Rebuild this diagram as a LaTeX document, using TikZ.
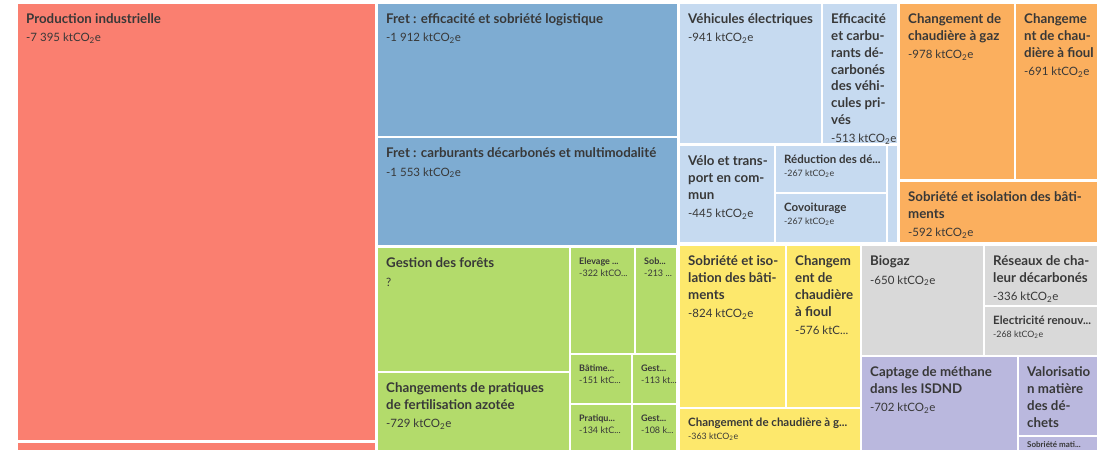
\documentclass[tikz,border=0pt]{standalone}
\usepackage{fontspec}
\setmainfont{Lato}
\definecolor{salmon}{HTML}{FA7F70}
\definecolor{fretblue}{HTML}{7EACD2}
\definecolor{lblue}{HTML}{C6DAF0}
\definecolor{orangebox}{HTML}{FBAF5E}
\definecolor{greenbox}{HTML}{B3DB6B}
\definecolor{yellowbox}{HTML}{FDE86C}
\definecolor{graybox}{HTML}{D9D9D9}
\definecolor{purplebox}{HTML}{BAB8DE}
\definecolor{txt}{HTML}{383838}
\tikzset{
  tl/.style={anchor=north west, inner sep=0, align=left, text=txt, font=\bfseries\fontsize{13.3}{16.8}\selectfont},
  vl/.style={anchor=base west, inner sep=0, text=txt, font=\fontsize{11.5}{13}\selectfont},
  tls/.style={anchor=north west, inner sep=0, align=left, text=txt, font=\bfseries\fontsize{11.5}{13}\selectfont},
  vls/.style={anchor=base west, inner sep=0, text=txt, font=\fontsize{8.8}{10}\selectfont},
  tlt/.style={anchor=north west, inner sep=0, align=left, text=txt, font=\bfseries\fontsize{9}{11}\selectfont},
  vlt/.style={anchor=base west, inner sep=0, text=txt, font=\fontsize{9}{10}\selectfont}
}
% big box: name, x1, y1, x2, y2, colour, title, number of title lines, value
\newcommand\BB[9]{%
  \fill[#6] (#2,#3) rectangle (#4,#5);
  \node[tl] (#1t) at ({#2+8},{#3+19.5-13}) {\rule{0pt}{13pt}#7};
  \node[vl] (#1v) at ({#2+8},{#3+19.5+(#8-1)*16.8+18.5}) {#9};
}
% small box: name, x1, y1, x2, y2, colour, title, value
\newcommand\SB[8]{%
  \fill[#6] (#2,#3) rectangle (#4,#5);
  \node[tls] (#1t) at ({#2+8},{#3+17-11}) {\rule{0pt}{11pt}#7};
  \node[vls] (#1v) at ({#2+8},{#3+17+13.5}) {#8};
}
% tiny box
\newcommand\TB[8]{%
  \fill[#6] (#2,#3) rectangle (#4,#5);
  \node[tlt] (#1t) at ({#2+8},{#3+16-9}) {\rule{0pt}{9pt}#7};
  \node[vlt] (#1v) at ({#2+8},{#3+16+12}) {#8};
}
\newcommand\kt{ktCO\textsubscript{2}e}
\begin{document}
\begin{tikzpicture}[x=1pt,y=-1pt]
\useasboundingbox (0,0) rectangle (1101,452);
\fill[white] (0,0) rectangle (1101,452);
% salmon
\BB{P1}{18}{4}{375}{440}{salmon}{Production industrielle}{1}{-7 395 \kt}
\fill[salmon] (18,443) rectangle (375,450);
% freight
\BB{F1}{378}{4}{677}{136}{fretblue}{Fret : efficacité et sobriété logistique}{1}{-1 912 \kt}
\BB{F2}{378}{138}{677}{245}{fretblue}{Fret : carburants décarbonés et multimodalité}{1}{-1 553 \kt}
% green
\BB{G1}{378}{248}{569}{371}{greenbox}{Gestion des forêts}{1}{?}
\BB{G2}{378}{373}{569}{450}{greenbox}{Changements de pratiques\\de fertilisation azotée}{2}{-729 \kt}
\TB{G3}{571}{248}{634}{353}{greenbox}{Elevage ...}{-322 ktCO...}
\TB{G4}{636}{248}{676}{353}{greenbox}{Sob...}{-213 ...}
\TB{G5}{571}{355}{631}{403}{greenbox}{Bâtime...}{-151 ktC...}
\TB{G6}{633}{355}{676}{403}{greenbox}{Gest...}{-113 kt...}
\TB{G7}{571}{405}{631}{450}{greenbox}{Pratiqu...}{-134 ktC...}
\TB{G8}{633}{405}{676}{450}{greenbox}{Gest...}{-108 k...}
% light blue
\BB{L1}{680}{4}{821}{143}{lblue}{Véhicules électriques}{1}{-941 \kt}
\BB{L2}{823}{4}{897}{143}{lblue}{Efficacité\\et carbu-\\rants dé-\\carbonés\\des véhi-\\cules pri-\\vés}{7}{-513 \kt}
\BB{L3}{680}{146}{774}{242}{lblue}{Vélo et trans-\\port en com-\\mun}{3}{-445 \kt}
\SB{L4}{776}{146}{886}{192}{lblue}{Réduction des dé...}{-267 \kt}
\SB{L5}{776}{194}{886}{242}{lblue}{Covoiturage}{-267 \kt}
\fill[lblue] (888,146) rectangle (897,242);
% orange
\BB{O1}{900}{4}{1014}{179}{orangebox}{Changement de\\chaudière à gaz}{2}{-978 \kt}
\BB{O2}{1016}{4}{1097}{179}{orangebox}{Changeme\\nt de chau-\\dière à fioul}{3}{-691 \kt}
\BB{O3}{900}{182}{1097}{242}{orangebox}{Sobriété et isolation des bâti-\\ments}{2}{-592 \kt}
% yellow
\BB{Y1}{680}{246}{785}{407}{yellowbox}{Sobriété et iso-\\lation des bâti-\\ments}{3}{-824 \kt}
\BB{Y2}{787}{246}{860}{407}{yellowbox}{Changem\\ent de\\chaudière\\à fioul}{4}{-576 ktC...}
\SB{Y3}{680}{409}{860}{450}{yellowbox}{Changement de chaudière à g...}{-363 \kt}
% gray
\BB{R1}{862}{246}{983}{355}{graybox}{Biogaz}{1}{-650 \kt}
\BB{R2}{985}{246}{1097}{305}{graybox}{Réseaux de cha-\\leur décarbonés}{2}{-336 \kt}
\SB{R3}{985}{307}{1097}{355}{graybox}{Electricité renouv...}{-268 \kt}
% purple
\BB{U1}{862}{357}{1017}{450}{purplebox}{Captage de méthane\\dans les ISDND}{2}{-702 \kt}
\fill[purplebox] (1019,357) rectangle (1097,435);
\node[tl] (U2t) at (1027,{357+19.5-13}) {\rule{0pt}{13pt}Valorisatio\\n matière\\des dé-\\chets};
\fill[purplebox] (1019,437) rectangle (1097,450);
\node[vls, font=\bfseries\fontsize{8}{9}\selectfont] (U3t) at (1027,447) {Sobriété mati...};
\end{tikzpicture}
\end{document}
